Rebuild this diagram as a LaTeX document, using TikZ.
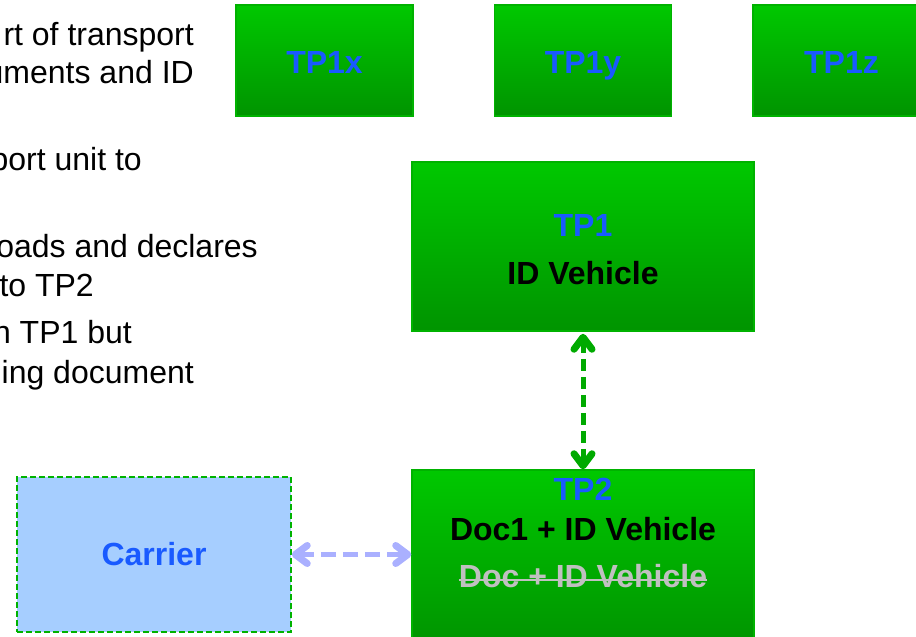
\documentclass[tikz,border=0pt]{standalone}
\usepackage{fontspec}
\setmainfont{Liberation Sans}
\usetikzlibrary{arrows.meta}

\definecolor{tptop}{RGB}{0,200,0}
\definecolor{tpbottom}{RGB}{0,148,0}
\definecolor{tpedge}{RGB}{0,178,0}
\definecolor{tpblue}{RGB}{25,90,255}
\definecolor{linkgreen}{RGB}{0,170,0}
\definecolor{linkblue}{RGB}{170,176,255}
\definecolor{carrierfill}{RGB}{166,206,255}
\definecolor{oldgrey}{RGB}{192,192,192}

\tikzset{linkbarb/.tip={Straight Barb[length=12pt,width=18pt,line width=7pt,round]}}

\begin{document}
\begin{tikzpicture}[
		x=1pt, y=-1pt,
		every node/.style={inner sep=0pt, font=\fontsize{32}{38}\selectfont},
		note/.style={anchor=base east},
		tpbox/.style={draw=tpedge, line width=1.5pt, top color=tptop, bottom color=tpbottom},
		tpname/.style={font=\fontsize{32}{38}\selectfont\bfseries, text=tpblue},
		tptext/.style={font=\fontsize{32}{38}\selectfont\bfseries, anchor=base},
	]
	\useasboundingbox (0,0) rectangle (916,637);

	% text on the left, cut by the page edge
	\node[note] (n1) at (194,45) {rt of transport};
	\node[note] (n2) at (194,83) {uments and ID};
	\node[note] (n3) at (142,170) {port unit to};
	\node[note] (n4) at (258,257) {oads and declares};
	\node[note] (n5) at (94,296) {to TP2};
	\node[note] (n6) at (132,343) {n TP1 but};
	\node[note] (n7) at (194,383) {ing document};

	% transport points
	\node[tpbox, minimum width=177pt, minimum height=111pt] (tp1x) at (324.5,60.5) {};
	\node[tpbox, minimum width=177pt, minimum height=111pt] (tp1y) at (583,60.5) {};
	\node[tpbox, minimum width=177pt, minimum height=111pt] (tp1z) at (841.5,60.5) {};
	\node[tpname, anchor=base] (tp1xname) at (324.5,73) {TP1x};
	\node[tpname, anchor=base] (tp1yname) at (583,73) {TP1y};
	\node[tpname, anchor=base] (tp1zname) at (841.5,73) {TP1z};

	\node[tpbox, minimum width=342pt, minimum height=169pt] (tp1) at (583,246.5) {};
	\node[tpname, anchor=base] (tp1name) at (583,236) {TP1};
	\node[tptext] (tp1id) at (583,284) {ID Vehicle};

	\node[tpbox, minimum width=342pt, minimum height=176pt] (tp2) at (583,558) {};
	\node[tpname, anchor=base] (tp2name) at (583,500) {TP2};
	\node[tptext] (tp2doc) at (583,540) {Doc1 + ID Vehicle};
	\node[tptext, text=oldgrey] (tp2old) at (583,587) {Doc + ID Vehicle};
	\draw[oldgrey, line width=2pt] ([yshift=7pt]tp2old.base west) -- ([yshift=7pt]tp2old.base east);

	\node[draw=tpedge, line width=1.5pt, dash pattern=on 6pt off 3pt, fill=carrierfill,
		minimum width=274pt, minimum height=155pt, tpname] (carrier) at (154,554.5) {Carrier};

	% links
	\draw[linkgreen, line width=5pt, dash pattern=on 12pt off 6pt, linkbarb-linkbarb]
		([yshift=-2pt]tp1.south) -- (tp2.north);
	\draw[linkblue, line width=5pt, dash pattern=on 15pt off 7pt, linkbarb-linkbarb]
		(carrier.east) -- (carrier.east -| tp2.west);

\end{tikzpicture}
\end{document}
